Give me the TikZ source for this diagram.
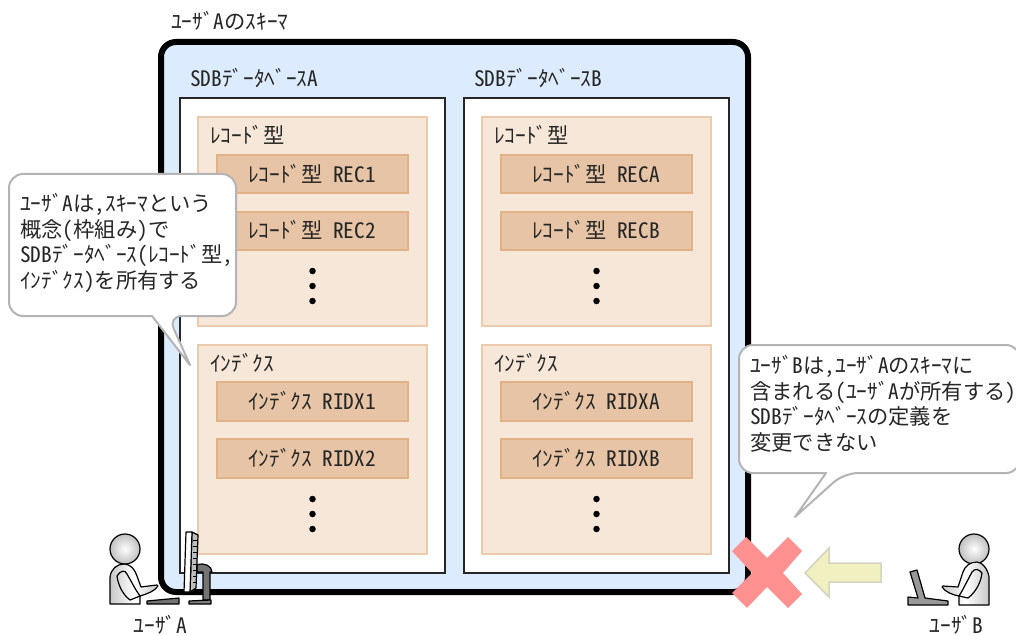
\documentclass[tikz,border=0pt]{standalone}
\usepackage{fontspec}
\newfontfamily\hw[CharacterWidth=Half]{Noto Sans CJK JP}
\definecolor{schemafill}{HTML}{DCECFE}
\definecolor{groupfill}{HTML}{F7E7D8}
\definecolor{groupline}{HTML}{EBCBAC}
\definecolor{itemfill}{HTML}{E6C4A5}
\definecolor{itemline}{HTML}{E0B286}
\definecolor{calloutline}{HTML}{B4B4B4}
\definecolor{crossred}{HTML}{FF9191}
\definecolor{arrowfill}{HTML}{F0F0C0}
\definecolor{arrowline}{HTML}{D4D4C0}
\tikzset{
  x=1pt,y=-1pt,
  txt/.style={inner sep=0pt,text=black!85,font=\hw\fontsize{21.3}{25.7}\selectfont},
  lefttxt/.style={txt,anchor=west},
  multitxt/.style={txt,anchor=north west,align=left},
  schemabox/.style={draw=black,line width=6pt,fill=schemafill,rounded corners=15pt},
  dbbox/.style={draw=black!85,line width=1.5pt,fill=white},
  groupbox/.style={draw=groupline,line width=2pt,fill=groupfill},
  itembox/.style={draw=itemline,line width=2pt,fill=itemfill},
  dotmark/.style={circle,fill=black,inner sep=0pt,minimum size=6.5pt},
  callout/.style={draw=calloutline,line width=2pt,fill=white,line join=round},
  figline/.style={draw=black,line width=1.2pt,line join=round},
  figbody/.style={figline,left color=black!22,right color=black!22,middle color=white},
  fighead/.style={figline,inner color=white,outer color=black!25},
}
\newcommand{\dbcolumn}[4]{%
  \begin{scope}[shift={(#1,0)}]
    \node[lefttxt] (#2title) at (190,78) {SDBﾃﾞｰﾀﾍﾞｰｽ#2};
    \path[dbbox] (180,98) rectangle (445,573);
    \path[groupbox] (198,117) rectangle (427,326);
    \path[groupbox] (198,345) rectangle (427,554);
    \node[lefttxt] (#2rec) at (210,135) {ﾚｺｰﾄﾞ型};
    \node[lefttxt] (#2idx) at (210,363) {ｲﾝﾃﾞｸｽ};
    \path[itembox] (217,155) rectangle (408,193);
    \path[itembox] (217,212) rectangle (408,250);
    \path[itembox] (217,382) rectangle (408,421);
    \path[itembox] (217,439) rectangle (408,478);
    \node[txt] (#2r1) at (312,174) {ﾚｺｰﾄﾞ型 REC#3};
    \node[txt] (#2r2) at (312,230) {ﾚｺｰﾄﾞ型 REC#4};
    \node[txt] (#2i1) at (312,401) {ｲﾝﾃﾞｸｽ RIDX#3};
    \node[txt] (#2i2) at (312,458) {ｲﾝﾃﾞｸｽ RIDX#4};
    \node[dotmark] at (312.5,271) {};
    \node[dotmark] at (312.5,286) {};
    \node[dotmark] at (312.5,301) {};
    \node[dotmark] at (312.5,499) {};
    \node[dotmark] at (312.5,514) {};
    \node[dotmark] at (312.5,529) {};
  \end{scope}}
\begin{document}
\begin{tikzpicture}
\clip (0,0) rectangle (1016,636);
\fill[white] (0,0) rectangle (1016,636);
\node[lefttxt] (schematitle) at (171,21) {ﾕｰｻﾞAのｽｷｰﾏ};
\path[schemabox] (161,42) rectangle (748,592);
\dbcolumn{0}{A}{1}{2}
\dbcolumn{284}{B}{A}{B}
% callout A
\path[callout,rounded corners=14pt] (9,174) -- (236,174) -- (236,316) -- (168,316) [sharp corners] -- (190,365) -- (152,316) [rounded corners=14pt] -- (9,316) -- cycle;
\node[multitxt] (noteA) at (20,193) {ﾕｰｻﾞAは,ｽｷｰﾏという\\概念(枠組み)で\\SDBﾃﾞｰﾀﾍﾞｰｽ(ﾚｺｰﾄﾞ型,\\ｲﾝﾃﾞｸｽ)を所有する};
% callout B
\path[callout,rounded corners=14pt] (739,345) -- (1020,345) -- (1020,473) -- (844,473) [sharp corners] -- (795,517) -- (826,473) [rounded corners=14pt] -- (739,473) -- cycle;
\node[multitxt] (noteB) at (750,355) {ﾕｰｻﾞBは,ﾕｰｻﾞAのｽｷｰﾏに\\含まれる(ﾕｰｻﾞAが所有する)\\SDBﾃﾞｰﾀﾍﾞｰｽの定義を\\変更できない};
% cross
\fill[crossred] (732,551) -- (746,537) -- (767,558) -- (788,537) -- (802,551) -- (783,573) -- (802,594) -- (788,608) -- (767,587) -- (747,608) -- (732,593) -- (752,573) -- cycle;
% arrow
\path[draw=arrowline,line width=1.5pt,fill=arrowfill] (805,573) -- (829,548) -- (829,563) -- (881,563) -- (881,582) -- (829,582) -- (829,597) -- cycle;
% user A
\path[fighead] (125,549) circle (15);
\path[figbody] (110,604) -- (110,577) .. controls (111,569) and (117,564) .. (124,564) .. controls (131,564) and (135,570) .. (137,576) -- (141,587) -- (157,585) -- (158,586) .. controls (155,591) and (147,594) .. (140,596) -- (140,604) -- cycle;
\draw[black,line width=1.2pt,line join=round] (117,576) .. controls (120,571) and (125,569) .. (127,574) -- (136,590) -- (140,596) -- (130,600) .. controls (122,594) and (118,584) .. (117,576) -- cycle;
\path[figline,fill=black!55] (197,565) .. controls (204,562) and (212,566) .. (212,572) -- (210,572) -- (210,600) -- (203,600) -- (203,572) -- (197,572) -- cycle;
\path[figline,fill=black!50] (189,601) -- (211,600) -- (211,604) -- (189,604) -- cycle;
\path[figline,fill=black!55] (147,601) -- (179,598) -- (179,604) -- (147,604) -- cycle;
\path[figline,fill=black!25] (192,532) -- (198,535) -- (196,588) -- (190,592) -- cycle;
\path[figline,fill=white] (186,532) -- (192,532) -- (190,592) -- (184,592) -- cycle;
\foreach \ty in {540,546,...,586} \draw[black,line width=.7pt] (193,\ty) -- (197,\ty);
% user B
\path[fighead] (974,549) circle (15);
\path[figbody] (989,605) -- (989,577) .. controls (988,569) and (982,562) .. (977,562) .. controls (970,562) and (965,566) .. (963,572) -- (958,587) -- (943,586) -- (942,587) .. controls (945,592) and (953,595) .. (959,596) -- (959,605) -- cycle;
\draw[black,line width=1.2pt,line join=round] (982,573) .. controls (979,569) and (975,568) .. (972,572) -- (962,591) -- (959,596) -- (968,598) .. controls (976,592) and (981,582) .. (982,573) -- cycle;
\path[figline,fill=black!40] (910,572) -- (917,570) -- (925,598) -- (948,601) -- (948,605) -- (908,605) -- (908,597) -- (918,598) -- cycle;
% user labels
\node[txt] (userA) at (160.5,625) {ﾕｰｻﾞA};
\node[txt] (userB) at (956.5,625) {ﾕｰｻﾞB};
\end{tikzpicture}
\end{document}
